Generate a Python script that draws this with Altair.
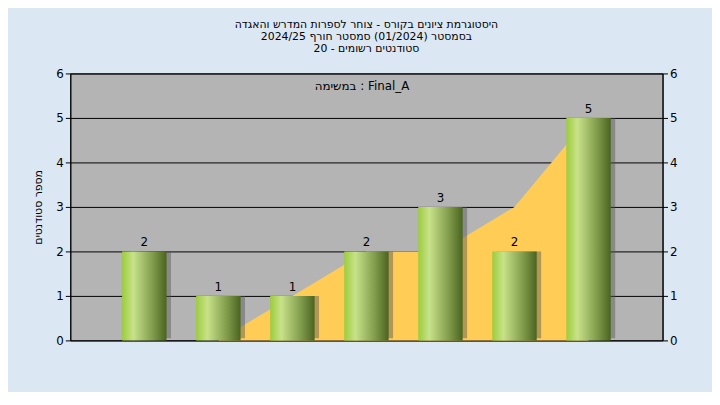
import pandas as pd
import altair as alt

labels = ["70", "75", "(Q1 80)", "85", "90", "95", "(Q3 100)"]
counts = [2, 1, 1, 2, 3, 2, 5]
cumul_area = [None, 0, 1, 2, 2, 3, 5]

pos = list(range(1, 8))
bars = pd.DataFrame({"pos": pos, "label": labels, "count": counts})
bars["x1"] = bars["pos"] - 0.3
bars["x2"] = bars["pos"] + 0.3
bars["sx1"] = bars["pos"] - 0.24
bars["sx2"] = bars["pos"] + 0.36
area = pd.DataFrame({"pos": pos, "v": cumul_area}).dropna()

lbl_expr = "{1:'70',2:'75',3:'(Q1 80)',4:'85',5:'90',6:'95',7:'(Q3 100)'}[datum.value]"
xs = alt.Scale(domain=[0, 8], nice=False)
ys = alt.Scale(domain=[0, 6], nice=False)
xax = alt.Axis(values=pos, labelExpr=lbl_expr, title="טווח ציונים", grid=True, titlePadding=10,
               gridColor="black", gridOpacity=1, tickColor="black", domainColor="black")
yax = alt.Axis(values=list(range(7)), title="מספר סטודנטים", grid=True, titlePadding=12,
               gridColor="black", gridOpacity=1, tickColor="black", domainColor="black")

base = alt.Chart(bars)

ar = alt.Chart(area).mark_area(color="#ffcc55", opacity=1).encode(
    x=alt.X("pos:Q", scale=xs, axis=xax), y=alt.Y("v:Q", scale=ys, axis=yax))

shadow = base.mark_rect(color="#555555", opacity=0.45).encode(
    x=alt.X("sx1:Q", scale=xs, axis=None), x2="sx2",
    y=alt.Y("count:Q", scale=ys, axis=None), y2=alt.datum(0.05))

grad = alt.Gradient(gradient="linear", x1=0, x2=1, y1=0, y2=0, stops=[
    alt.GradientStop(color="#9ccc3c", offset=0),
    alt.GradientStop(color="#c8e28a", offset=0.25),
    alt.GradientStop(color="#7f9a4a", offset=0.7),
    alt.GradientStop(color="#4a6420", offset=1)])
rect = base.mark_rect(fill=grad).encode(
    x=alt.X("x1:Q", scale=xs, axis=None), x2="x2",
    y=alt.Y("count:Q", scale=ys, axis=None), y2=alt.datum(0))

txt = base.mark_text(dy=-9, fontSize=12, font="DejaVu Sans", color="black").encode(
    x=alt.X("pos:Q", scale=xs, axis=None), y=alt.Y("count:Q", scale=ys, axis=None), text="count:Q")

right = base.mark_point(opacity=0).encode(
    x=alt.X("pos:Q", scale=xs, axis=None),
    y=alt.Y("count:Q", scale=ys, axis=alt.Axis(orient="right", values=list(range(7)),
            title=None, grid=False, tickColor="black", domainColor="black")))

leg = alt.Chart(pd.DataFrame({"t": ["במשימה : Final_A"]})).mark_text(
    fontSize=12, font="DejaVu Sans", color="black").encode(
    x=alt.value(295), y=alt.value(13), text="t:N")

chart = alt.layer(ar, shadow, rect, txt, leg, right).resolve_axis(y="independent").properties(
    width=599, height=270,
    autosize=alt.AutoSizeParams(type="none"),
    padding={"left": 63, "top": 64, "right": 50, "bottom": 50},
    background="#dce7f4",
    title=alt.Title(["היסטוגרמת ציונים בקורס - צוחר לספרות המדרש והאגדה",
                     "בסמסטר  (01/2024)  סמסטר חורף 2024/25",
                     "סטודנטים רשומים - 20"],
                    fontSize=11, fontWeight="normal", font="DejaVu Sans",
                    anchor="middle", offset=14, lineHeight=12, color="black"),
).configure_view(fill="#b4b4b4", stroke="black").configure_axis(
    labelFont="DejaVu Sans", titleFont="DejaVu Sans", labelFontSize=12,
    titleFontSize=11, titleFontWeight="normal", labelColor="black", titleColor="black")

chart.save("out.html", embed_options={"renderer": "svg", "actions": False})
